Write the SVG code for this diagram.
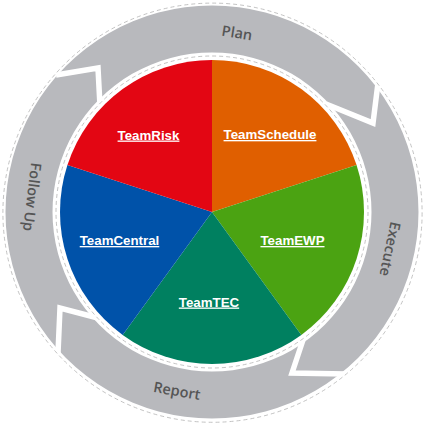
<svg xmlns="http://www.w3.org/2000/svg" width="425" height="426" viewBox="0 0 425 426">
<style>
.lbl{font-family:"Liberation Sans",Arial,sans-serif;font-weight:bold;font-size:13.3px;fill:#fff;text-anchor:middle;text-decoration:underline}
.ring{font-family:"Open Sans","Noto Sans",sans-serif;font-size:14.5px;font-weight:600;fill:#555;text-anchor:middle}
.sep{fill:none;stroke:#fff;stroke-width:5.5;stroke-linejoin:miter;stroke-miterlimit:10}
.dash{fill:none;stroke:#b4b4b4;stroke-width:0.8;stroke-dasharray:4 3}
</style>
<rect width="425" height="426" fill="#fff"/>
<g id="connectors">
  <path d="M212,5.5 A206.5,206.5 0 1 1 211.99,5.5 Z M212,52.5 A159.5,159.5 0 1 0 212.01,52.5 Z" fill="#b8b9bd" fill-rule="evenodd"/>
  <polyline class="sep" points="56,75 98,68 100,106"/>
  <polyline class="sep" points="326,104 373,123 378,83"/>
  <polyline class="sep" points="303,340 292,373 346,374"/>
  <polyline class="sep" points="98,318 60,308 58,353"/>
  <circle class="dash" cx="212.5" cy="212.7" r="209.6"/>
  <circle class="dash" cx="212" cy="212" r="156"/>
</g>
<g id="plan"><text class="ring" transform="translate(237,33) rotate(9)" y="5">Plan</text></g>
<g id="execute"><text class="ring" transform="translate(390,249) rotate(102)" y="5">Execute</text></g>
<g id="report"><text class="ring" transform="translate(177,391) rotate(10)" y="5">Report</text></g>
<g id="followup"><text class="ring" transform="translate(32,197) rotate(97)" y="5">Follow Up</text></g>
<g id="teamschedule">
  <path d="M212,212 L212,60 A152,152 0 0 1 356.56,165.03 Z" fill="#e05f00"/>
  <text class="lbl" x="270" y="139">TeamSchedule</text>
</g>
<g id="teamewp">
  <path d="M212,212 L356.56,165.03 A152,152 0 0 1 301.34,334.97 Z" fill="#4ba312"/>
  <text class="lbl" x="292.5" y="245">TeamEWP</text>
</g>
<g id="teamtec">
  <path d="M212,212 L301.34,334.97 A152,152 0 0 1 122.66,334.97 Z" fill="#008060"/>
  <text class="lbl" x="209" y="306.5">TeamTEC</text>
</g>
<g id="teamcentral">
  <path d="M212,212 L122.66,334.97 A152,152 0 0 1 67.44,165.03 Z" fill="#0052a9"/>
  <text class="lbl" x="119.5" y="245">TeamCentral</text>
</g>
<g id="teamrisk">
  <path d="M212,212 L67.44,165.03 A152,152 0 0 1 212,60 Z" fill="#e30613"/>
  <text class="lbl" x="148.5" y="139.5">TeamRisk</text>
</g>
</svg>
